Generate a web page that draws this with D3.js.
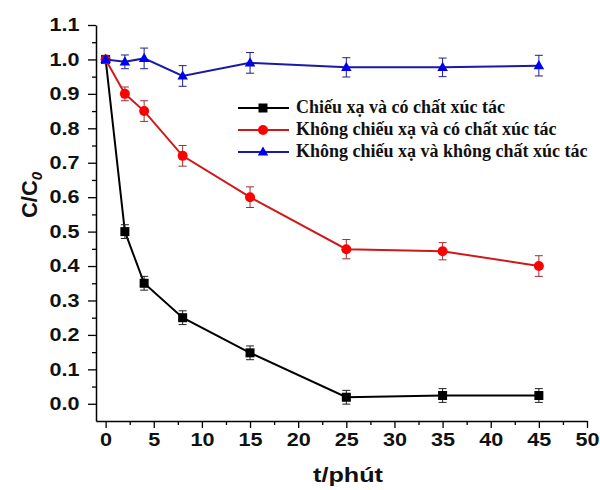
<!DOCTYPE html>
<html><head><meta charset="utf-8">
<script src="https://cdn.jsdelivr.net/npm/d3@7"></script>
<style>body{margin:0;background:#fff}svg{display:block}</style>
</head><body><svg id="c" width="600" height="490"></svg>
<script>
const times = [0, 2, 4, 8, 15, 25, 35, 45];
const seriesNames = ["Chiếu xạ và có chất xúc tác", "Không chiếu xạ và có chất xúc tác", "Không chiếu xạ và không chất xúc tác"];
const blackVals = [1.0, 0.50, 0.35, 0.25, 0.148, 0.019, 0.024, 0.024];
const blackErr  = [0.01, 0.02, 0.02, 0.02, 0.02, 0.02, 0.02, 0.02];
const redVals = [1.0, 0.90, 0.85, 0.72, 0.60, 0.449, 0.443, 0.40];
const redErr  = [0.01, 0.02, 0.03, 0.03, 0.03, 0.028, 0.025, 0.03];
const blueVals = [1.0, 0.993, 1.003, 0.952, 0.99, 0.977, 0.977, 0.982];
const blueErr  = [0.01, 0.02, 0.03, 0.03, 0.03, 0.028, 0.027, 0.03];
const xTicks = [0, 5, 10, 15, 20, 25, 30, 35, 40, 45, 50];
const xMinor = [2.5, 7.5, 12.5, 17.5, 22.5, 27.5, 32.5, 37.5, 42.5, 47.5];
const yTicks = [0.0, 0.1, 0.2, 0.3, 0.4, 0.5, 0.6, 0.7, 0.8, 0.9, 1.0, 1.1];
const yMinor = [0.05, 0.15, 0.25, 0.35, 0.45, 0.55, 0.65, 0.75, 0.85, 0.95, 1.05];

const svg = d3.select("#c");
const x = d3.scaleLinear().domain([-1, 50]).range([96, 587]);
const y = d3.scaleLinear().domain([-0.05, 1.1]).range([421, 25]);

const series = [
  {name: seriesNames[0], vals: blackVals, err: blackErr, line: "#000", fill: "#000", errC: "#222", shape: "square"},
  {name: seriesNames[1], vals: redVals, err: redErr, line: "#d01818", fill: "#ff0000", errC: "#a03030", shape: "circle"},
  {name: seriesNames[2], vals: blueVals, err: blueErr, line: "#1a1aa8", fill: "#0000f0", errC: "#202080", shape: "triangle"}
];

// axes
const axFont = "'Liberation Sans', Arial, sans-serif";
const gx = svg.append("g").attr("transform", "translate(0,421)")
  .call(d3.axisBottom(x).tickValues(xTicks).tickSize(7).tickSizeOuter(0).tickPadding(5).tickFormat(d3.format("d")));
svg.append("g").attr("transform", "translate(0,421)")
  .call(d3.axisBottom(x).tickValues(xMinor).tickSize(4).tickSizeOuter(0).tickFormat(""))
  .select(".domain").remove();
const gy = svg.append("g").attr("transform", "translate(96,0)")
  .call(d3.axisLeft(y).tickValues(yTicks).tickSize(8).tickSizeOuter(0).tickPadding(6).tickFormat(d3.format(".1f")));
svg.append("g").attr("transform", "translate(96,0)")
  .call(d3.axisLeft(y).tickValues(yMinor).tickSize(4).tickSizeOuter(0).tickFormat(""))
  .select(".domain").remove();
svg.selectAll(".domain").attr("stroke", "#000").attr("stroke-width", 1.5);
svg.selectAll(".tick line").attr("stroke", "#000").attr("stroke-width", 1.3);
gx.selectAll(".tick text").attr("font-family", axFont).attr("font-weight", "bold").attr("font-size", 18).attr("fill", "#111")
  .attr("transform", "scale(1.2,1)");
gy.selectAll(".tick text").attr("font-family", axFont).attr("font-weight", "bold").attr("font-size", 18).attr("fill", "#111")
  .attr("transform", "translate(-14,0) scale(1.2,1)").attr("x", -2);

// axis titles
svg.append("text").attr("transform", "translate(348,482) scale(1.2,1)").attr("text-anchor", "middle")
  .attr("font-family", axFont).attr("font-weight", "bold").attr("font-size", 21).attr("fill", "#111").text("t/phút");
const yt = svg.append("text").attr("transform", "translate(37,195) rotate(-90)").attr("text-anchor", "middle")
  .attr("font-family", axFont).attr("font-weight", "bold").attr("font-size", 22).attr("fill", "#111");
yt.append("tspan").text("C/C");
yt.append("tspan").attr("font-size", 15).attr("font-style", "italic").attr("dy", 5).text("0");

function marker(g, shape, fill) {
  if (shape === "square") return g.append("rect").attr("x", -4.5).attr("y", -4.5).attr("width", 9).attr("height", 9).attr("fill", fill);
  if (shape === "circle") return g.append("circle").attr("r", 5).attr("fill", fill);
  return g.append("path").attr("d", d3.symbol().type(d3.symbolTriangle).size(48)()).attr("fill", fill).attr("transform", "translate(0,0.5)");
}

const lineGen = d3.line().x(d => x(d[0])).y(d => y(d[1]));
series.forEach(s => {
  const pts = times.map((t, i) => [t, s.vals[i], s.err[i]]);
  svg.append("path").datum(pts).attr("d", lineGen).attr("fill", "none").attr("stroke", s.line).attr("stroke-width", 2);
  const eg = svg.append("g");
  pts.forEach(p => {
    const cx = x(p[0]);
    eg.append("line").attr("x1", cx).attr("x2", cx).attr("y1", y(p[1] + p[2])).attr("y2", y(p[1] - p[2])).attr("stroke", s.errC).attr("stroke-width", 1);
    [p[1] + p[2], p[1] - p[2]].forEach(v => eg.append("line").attr("x1", cx - 4).attr("x2", cx + 4).attr("y1", y(v)).attr("y2", y(v)).attr("stroke", s.errC).attr("stroke-width", 1));
  });
  pts.forEach(p => marker(svg.append("g").attr("transform", `translate(${x(p[0])},${y(p[1])})`), s.shape, s.fill));
});

// legend
const lg = svg.append("g");
series.forEach((s, i) => {
  const yy = 108 + i * 22;
  lg.append("line").attr("x1", 238).attr("x2", 289).attr("y1", yy).attr("y2", yy).attr("stroke", s.line).attr("stroke-width", 2);
  marker(lg.append("g").attr("transform", `translate(263,${yy})`), s.shape, s.fill);
  lg.append("text").attr("x", 296).attr("y", yy + 5).attr("font-family", "'Liberation Serif', 'Times New Roman', serif")
    .attr("font-weight", "bold").attr("font-size", 18).attr("fill", "#111").text(s.name);
});
</script></body></html>
